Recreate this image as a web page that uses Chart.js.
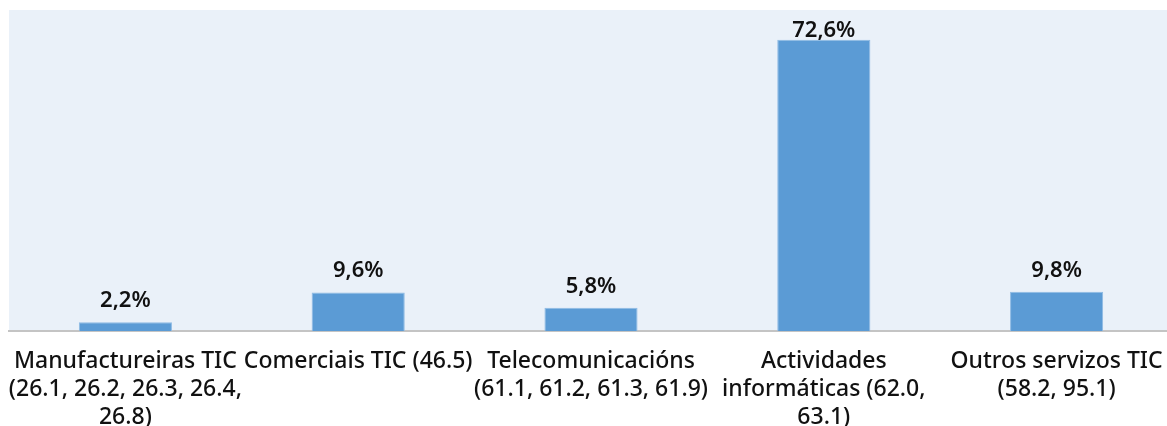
<!DOCTYPE html>
<html><head><meta charset="utf-8">
<script src="https://cdn.jsdelivr.net/npm/chart.js@4/dist/chart.umd.min.js"></script>
<style>html,body{margin:0;padding:0;background:#fff;overflow:hidden}#wrap{width:1167px;height:426px;overflow:hidden}</style>
</head><body><div id="wrap"><canvas id="c" width="1173" height="426"></canvas></div>
<script>
const categories = [
  ["Manufactureiras TIC", "(26.1, 26.2, 26.3, 26.4,", "26.8)"],
  ["Comerciais TIC (46.5)"],
  ["Telecomunicacións", "(61.1, 61.2, 61.3, 61.9)"],
  ["Actividades", "informáticas (62.0,", "63.1)"],
  ["Outros servizos TIC", "(58.2, 95.1)"]
];
const values = [2.2, 9.6, 5.8, 72.6, 9.8];
const valueLabels = ["2,2%", "9,6%", "5,8%", "72,6%", "9,8%"];

const FONT = "'Noto Sans'";
const bgPlugin = {
  id: 'bg',
  beforeDraw(chart) {
    const {ctx, chartArea: a} = chart;
    ctx.save();
    ctx.fillStyle = '#EAF1F9';
    ctx.fillRect(a.left, a.top, a.right - a.left, a.bottom - a.top);
    ctx.restore();
  }
};
const labelPlugin = {
  id: 'vlabels',
  afterDatasetsDraw(chart) {
    const {ctx, chartArea} = chart;
    const meta = chart.getDatasetMeta(0);
    ctx.save();
    ctx.font = "600 22px " + FONT;
    ctx.fillStyle = '#111';
    ctx.textAlign = 'center';
    ctx.textBaseline = 'alphabetic';
    meta.data.forEach((bar, i) => {
      const y = Math.max(bar.y - 15, chartArea.top + 27);
      ctx.fillText(valueLabels[i], bar.x, y);
    });
    ctx.restore();
  }
};
new Chart(document.getElementById('c'), {
  type: 'bar',
  data: {
    labels: categories,
    datasets: [{
      data: values,
      backgroundColor: '#5B9BD5',
      borderColor: '#8FBBE4',
      borderWidth: 1,
      barPercentage: 0.4,
      categoryPercentage: 1
    }]
  },
  options: {
    responsive: false,
    animation: false,
    devicePixelRatio: 1,
    layout: {padding: {left: 9, top: 10, right: 0, bottom: 0}},
    plugins: {legend: {display: false}, tooltip: {enabled: false}},
    scales: {
      y: {display: false, min: 0, max: 80},
      x: {
        grid: {display: false, drawTicks: false},
        border: {display: true, color: '#C4C4C4', width: 2},
        ticks: {
          autoSkip: false, maxRotation: 0, minRotation: 0,
          color: '#111', padding: 16,
          font: {family: FONT, size: 23, weight: '500', lineHeight: 1.22}
        },
        afterFit(scale) {
          scale.height = 95;
          scale.paddingLeft = 0;
          scale.paddingRight = 0;
        }
      }
    }
  },
  plugins: [bgPlugin, labelPlugin]
});
</script></body></html>
